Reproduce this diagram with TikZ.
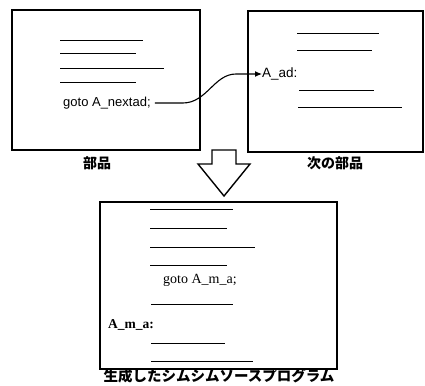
\documentclass[tikz,border=0pt]{standalone}
\usepackage{fontspec}
\setmainfont{Liberation Serif}
\newfontfamily\sansfont{Liberation Sans}
\newfontfamily\cjk{Noto Sans CJK JP}
\usetikzlibrary{arrows.meta}
\tikzset{
  srcbox/.style={draw, line width=1.2pt, inner sep=0pt},
  codeline/.style={line width=0.9pt},
  code/.style={inner sep=0pt, anchor=west, font=\fontsize{13}{15}\selectfont},
  caption/.style={inner sep=0pt, font=\cjk\bfseries\fontsize{14}{16}\selectfont}
}
\begin{document}
\begin{tikzpicture}[x=1pt, y=-1pt]
            \useasboundingbox (0,0) rectangle (425,385);

            % Source boxes
            \node[srcbox, minimum width=188pt, minimum height=140pt] (part) at (106,80) {};
            \node[srcbox, minimum width=175pt, minimum height=141pt] (next) at (335.5,81.5) {};
            \node[srcbox, minimum width=237pt, minimum height=167pt] (gen) at (218.5,285.5) {};

            % Code lines
            \foreach \y/\a/\b in {40/60/143, 53/60/136, 68/60/164, 82/60/136,
                                  33/297/379, 50/297/372, 90/299/374, 107/298/402,
                                  209/150/233, 228/150/227, 247/150/255, 265/150/227,
                                  304/151/233, 343/151/225, 361/151/253}
                \draw[codeline] (\a,\y) -- (\b,\y);

            % Labels in the code
            \node[code, font=\sansfont\fontsize{13}{15}\selectfont] (jump) at (63,103) {goto A\_nextad;};
            \node[code, font=\sansfont\fontsize{13.5}{15}\selectfont] (ad) at (262,74) {A\_ad:};
            \node[code, font=\fontsize{14}{16}\selectfont] (jumpm) at (163,280) {goto A\_m\_a;};
            \node[code, font=\bfseries\fontsize{13.5}{16}\selectfont] (am) at (108,325) {A\_m\_a:};

            % Jump to the next part
            \draw[line width=1.1pt, -{Latex[length=7pt, width=6pt]}] (jump.east) ++(4,0) -- ++(28,0)
                .. controls +(24,0) and +(-22,0) .. (236,74) -- (ad.west);

            % Captions
            \node[caption] (partlbl) at (97,163) {部品};
            \node[caption] (nextlbl) at (335,163) {次の部品};
            \node[caption, font=\cjk\bfseries\fontsize{14.5}{16}\selectfont] (genlbl) at (219,376) {生成したシムシムソースプログラム};

            % Hollow arrow down
            \draw[line width=1.4pt, line join=miter] (212,150) -- (236,150) -- (236,164) -- (250,164)
                -- (224,196) -- (198,164) -- (212,164) -- cycle;
        \end{tikzpicture}
\end{document}
